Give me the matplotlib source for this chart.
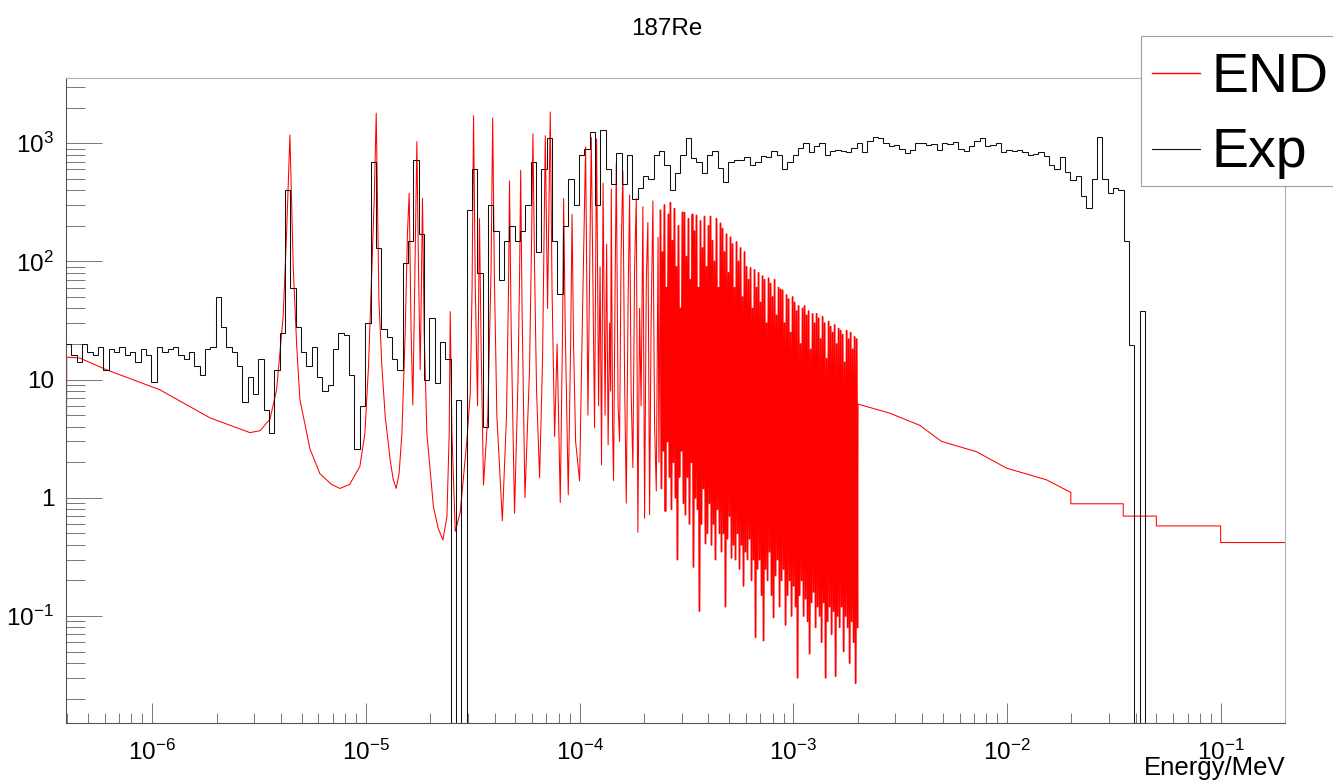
"""187Re: evaluated (END) vs experimental (Exp) spectrum, ROOT-style log-log plot."""
import numpy as np
import matplotlib
matplotlib.use("Agg")
import matplotlib.pyplot as plt
from matplotlib.lines import Line2D
from matplotlib.patches import Rectangle
from matplotlib.ticker import LogLocator, FuncFormatter, NullFormatter

plt.rcParams["font.family"] = ["Liberation Sans", "DejaVu Sans"]
plt.rcParams["mathtext.fontset"] = "custom"
plt.rcParams["mathtext.rm"] = "Liberation Sans"
plt.rcParams["mathtext.it"] = "Liberation Sans:italic"
plt.rcParams["mathtext.bf"] = "Liberation Sans:bold"

# ---- END (red), resolved resonances read point by point: energy [MeV], value
end_e = [
    3.96e-7, 3.98e-7, 4.59e-7, 6.12e-7, 1.086e-6, 1.862e-6, 2.5e-6, 2.866e-6,
    3.2e-6, 3.43e-6,
    3.555e-6, 3.82e-6, 4.10e-6, 4.255e-6, 4.41e-6, 4.57e-6, 4.74e-6, 4.91e-6,
    5.47e-6, 6.09e-6, 6.9e-6, 7.56e-6, 8.4e-6, 9.37e-6, 9.89e-6, 1.0285e-5,
    1.0668e-5, 1.0935e-5,
    1.1175e-5, 1.1333e-5, 1.1506e-5, 1.188e-5, 1.231e-5, 1.299e-5, 1.34e-5,
    1.3856e-5, 1.43e-5,
    1.474e-5, 1.527e-5, 1.565e-5, 1.594e-5, 1.628e-5, 1.658e-5, 1.688e-5,
    1.732e-5, 1.762e-5, 1.795e-5, 1.815e-5, 1.840e-5, 1.874e-5, 1.929e-5,
    2.07e-5, 2.18e-5, 2.293e-5, 2.394e-5, 2.454e-5, 2.481e-5, 2.527e-5, 2.619e-5,
    2.763e-5, 2.97e-5, 3.08e-5, 3.14e-5, 3.19e-5, 3.25e-5, 3.33e-5, 3.40e-5,
    3.46e-5, 3.55e-5, 3.72e-5, 3.85e-5, 3.92e-5, 3.99e-5, 4.10e-5, 4.35e-5,
    4.55e-5, 4.65e-5, 4.70e-5, 4.78e-5, 4.96e-5, 5.15e-5, 5.24e-5, 5.30e-5,
    5.38e-5, 5.55e-5, 5.83e-5, 5.96e-5, 6.05e-5, 6.16e-5, 6.29e-5, 6.50e-5,
    6.71e-5, 6.91e-5, 7.08e-5, 7.29e-5, 7.43e-5, 7.64e-5, 7.85e-5, 8.12e-5,
    8.33e-5, 8.42e-5, 8.56e-5, 8.85e-5, 9.08e-5, 9.22e-5, 9.37e-5, 9.58e-5,
    1.0e-4, 1.033e-4, 1.067e-4, 1.094e-4, 1.134e-4, 1.175e-4, 1.201e-4,
    1.227e-4, 1.247e-4, 1.267e-4, 1.288e-4, 1.316e-4, 1.338e-4, 1.360e-4,
    1.382e-4, 1.397e-4, 1.407e-4, 1.427e-4, 1.442e-4, 1.466e-4, 1.485e-4,
    1.514e-4, 1.539e-4, 1.564e-4, 1.594e-4, 1.624e-4, 1.654e-4, 1.687e-4,
    1.714e-4, 1.742e-4, 1.776e-4, 1.809e-4, 1.842e-4, 1.874e-4, 1.909e-4,
    1.940e-4, 1.978e-4, 2.015e-4, 2.052e-4, 2.087e-4, 2.126e-4, 2.161e-4,
    2.203e-4, 2.244e-4, 2.285e-4, 2.330e-4, 2.350e-4,
]
end_y = [
    1.0, 15.5, 15.2, 12.1, 8.2, 4.75, 3.9, 3.56,
    3.7, 4.3,
    4.6, 8.2, 34, 174, 1175, 90, 20, 6.8,
    2.6, 1.6, 1.3, 1.2, 1.3, 1.84, 3.5, 12.9,
    90, 330,
    1795, 330, 47, 12.9, 4.9, 2.1, 1.45,
    1.2, 1.6,
    3.5, 24.8, 174, 378, 24.8, 6.1, 47,
    1030, 90, 12.1, 47, 343, 24.8, 3.5,
    0.84, 0.55, 0.44, 0.69, 3.5, 37.6, 3.5, 0.52,
    0.75, 3.1, 7.8, 60, 1710, 60, 6.0, 230,
    20, 1.28, 5, 80, 1640, 80, 5, 0.64,
    5, 60, 480, 30, 0.74, 10, 80, 590,
    40, 1.0, 12, 150, 1200, 80, 8, 1.48,
    15, 1160, 40, 1840, 60, 3.3, 20, 0.91,
    30, 340, 30, 1.06, 20, 250, 20, 3,
    1.39, 40, 930, 5.0, 1120, 3.9, 1090,
    6, 90, 1.9, 460, 5, 140, 2.8,
    30, 8, 410, 4, 1.4, 60, 680,
    6, 3, 120, 580, 10, 0.9, 50,
    365, 8, 1.8, 90, 340, 0.51, 40,
    6, 290, 0.67, 70, 214, 0.72, 30,
    325, 4, 1.14, 160, 2.0,
]

# ---- END, dense resonance region 0.24 keV .. 2 keV: tops and dips, left to right
end_dense_range = (2.39e-4, 2.0e-3)
end_dense_tops = [
    270, 120, 300, 60, 250, 314, 150, 280, 90, 200, 40, 260,
    259, 110, 230, 70, 250, 180, 245, 60, 220, 130, 240, 90, 200,
    240, 150, 100, 230, 60, 210, 190, 120, 170, 80, 160, 140,
    60, 146, 100, 130, 50, 120, 90, 70, 88, 40, 85, 60,
    80, 45, 75, 70, 30, 72, 65, 50, 70, 35, 60, 58,
    57, 30, 52, 48, 25, 50, 45, 38, 42, 20, 40, 42,
    35, 38, 18, 36, 30, 36, 33, 22, 34, 30, 15, 31,
    28, 25, 29, 20, 27, 26, 24, 14, 26, 22, 25, 18, 23, 22,
]
end_dense_dips = [
    1.2, 2.5, 0.77, 3, 1.5, 0.8, 2, 1.0, 0.3, 1.5, 2.5, 0.9,
    0.72, 1.5, 0.6, 2, 0.26, 1.0, 0.8, 0.11, 0.6, 1.2, 0.41, 0.5, 0.9,
    0.4, 0.6, 0.3, 0.8, 0.5, 0.35, 0.5, 0.12, 0.45, 0.7, 0.31, 0.4,
    0.3, 0.5, 0.25, 0.4, 0.18, 0.35, 0.3, 0.45, 0.2, 0.3, 0.066, 0.25,
    0.3, 0.15, 0.062, 0.25, 0.2, 0.35, 0.15, 0.097, 0.22, 0.3, 0.12, 0.2,
    0.25, 0.084, 0.15, 0.2, 0.1, 0.18, 0.12, 0.03, 0.15, 0.2, 0.1, 0.14,
    0.09, 0.048, 0.13, 0.16, 0.08, 0.12, 0.1, 0.06, 0.13, 0.03, 0.09, 0.12,
    0.07, 0.11, 0.031, 0.1, 0.08, 0.12, 0.05, 0.1, 0.08, 0.04, 0.09, 0.06, 0.027, 0.08,
]

# ---- END above 2 keV (smooth part, then group steps)
end_tail_e = [2.01e-3, 2.83e-3, 3.91e-3, 4.94e-3, 7.21e-3, 9.96e-3, 1.53e-2,
              1.99e-2, 1.99e-2, 3.5e-2, 3.5e-2, 5.0e-2, 5.0e-2, 0.1, 0.1, 0.2]
end_tail_y = [6.2, 5.2, 4.1, 3.0, 2.45, 1.78, 1.42,
              1.11, 0.89, 0.89, 0.70, 0.70, 0.578, 0.578, 0.418, 0.418]

# ---- Exp (black) histogram, 40 log bins per decade from the left edge
exp_first_edge = 3.95e-7
exp_bins_per_decade = 40
exp_counts = [
    20, 16, 14, 20, 17, 16, 19, 12, 18, 17,
    19, 16, 17, 14, 18, 16, 9.5, 19, 17, 18,
    19, 16, 15, 17, 13, 11, 18, 19, 50, 28,
    19, 17, 13, 6.5, 10.5, 7.5, 15, 5.5, 3.5, 12,
    25, 400, 60, 28, 17, 13, 19, 10.6, 8, 9,
    18, 25, 24, 11, 2.6, 6, 30, 700, 130, 27,
    23, 15, 12, 97, 150, 720, 170, 10, 33, 9.3,
    21, 15, 0, 6.7, 0, 270, 600, 80, 4, 300,
    180, 70, 150, 200, 150, 180, 300, 700, 120, 600,
    1100, 150, 53, 200, 500, 300, 800, 900, 1250, 300,
    1300, 600, 450, 820, 450, 800, 340, 420, 530, 500,
    800, 860, 650, 400, 560, 800, 1100, 750, 700, 560,
    800, 860, 620, 470, 700, 720, 720, 760, 660, 700,
    780, 760, 860, 800, 600, 700, 800, 920, 1000, 850,
    950, 1000, 800, 860, 880, 860, 840, 920, 1000, 850,
    1050, 1140, 1100, 1000, 940, 970, 900, 820, 880, 1000,
    1000, 960, 980, 880, 1000, 990, 1020, 900, 860, 940,
    1050, 1100, 940, 960, 1000, 850, 870, 860, 880, 850,
    800, 810, 850, 780, 650, 610, 760, 570, 490, 530,
    355, 285, 500, 1140, 500, 380, 420, 400, 150, 19.6,
    0, 38, 0,
]

x_range = (3.95e-7, 0.2)
y_range = (0.0125, 3600)

W, H = 1333, 781


def fx(px):
    return px / W


def fy(py):
    return 1 - py / H


def dense_curve():
    n = len(end_dense_tops)
    dense_y = np.empty(2 * n)
    dense_y[0::2] = end_dense_tops
    dense_y[1::2] = end_dense_dips
    dense_e = np.geomspace(end_dense_range[0], end_dense_range[1], 2 * n)
    return dense_e, dense_y


def y_label(v, _):
    p = int(round(np.log10(v)))
    if p == 0:
        return "1"
    if p == 1:
        return "10"
    return r"$10^{%d}$" % p


def main():
    fig = plt.figure(figsize=(W / 100, H / 100), dpi=100)
    ax = fig.add_axes([fx(66), fy(722.7), (1285 - 66) / W, (722.7 - 77.5) / H])

    dense_e, dense_y = dense_curve()
    e = np.concatenate([end_e, dense_e, end_tail_e])
    y = np.concatenate([end_y, dense_y, end_tail_y])
    ax.plot(e, y, color="#ff0000", lw=0.75, zorder=2)
    # the dense resonance forest renders as a nearly solid band in the original
    ax.plot(dense_e, dense_y, color="#ff0000", lw=1.25, zorder=2)

    counts = np.asarray(exp_counts, dtype=float)
    edges = exp_first_edge * 10 ** (np.arange(len(counts) + 1) / exp_bins_per_decade)
    ax.stairs(np.clip(counts, 1e-6, None), edges, color="#111111", lw=0.75,
              baseline=None, zorder=3)

    ax.set_xscale("log")
    ax.set_yscale("log")
    ax.set_xlim(*x_range)
    ax.set_ylim(*y_range)

    ax.xaxis.set_major_locator(LogLocator(base=10, numticks=20))
    ax.xaxis.set_minor_locator(LogLocator(base=10, subs=np.arange(2, 10), numticks=20))
    ax.xaxis.set_minor_formatter(NullFormatter())
    ax.yaxis.set_major_locator(LogLocator(base=10, numticks=20))
    ax.yaxis.set_minor_locator(LogLocator(base=10, subs=np.arange(2, 10), numticks=20))
    ax.yaxis.set_major_formatter(FuncFormatter(y_label))
    ax.yaxis.set_minor_formatter(NullFormatter())

    ax.tick_params(axis="y", which="major", direction="in", length=26, width=0.7,
                   color="#777777", pad=8.5, labelsize=17.5)
    ax.tick_params(axis="y", which="minor", direction="in", length=13.5, width=0.7,
                   color="#777777")
    ax.tick_params(axis="x", which="major", direction="in", length=14.4, width=0.7,
                   color="#777777", pad=12, labelsize=17.5)
    ax.tick_params(axis="x", which="minor", direction="in", length=7, width=0.7,
                   color="#777777")
    ax.tick_params(top=False, right=False, which="both")

    for side in ("left", "bottom"):
        ax.spines[side].set_color("#555555")
        ax.spines[side].set_linewidth(0.8)
    for side in ("top", "right"):
        ax.spines[side].set_color("#b0b0b0")
        ax.spines[side].set_linewidth(0.8)

    fig.text(0.5, fy(29), "187Re", ha="center", va="center", fontsize=17.5)
    fig.text(fx(1286), fy(775), "Energy/MeV", ha="right", va="baseline", fontsize=18.5)

    # legend box, ROOT style, running off the right edge
    fig.add_artist(Rectangle((fx(1140.7), fy(186)), 0.2, (186 - 36) / H,
                             transform=fig.transFigure, facecolor="white",
                             edgecolor="#a0a0a0", lw=0.8, zorder=10))
    fig.add_artist(Line2D([fx(1151.7), fx(1200)], [fy(73.3)] * 2, color="#ff0000",
                          lw=1.0, transform=fig.transFigure, zorder=11))
    fig.add_artist(Line2D([fx(1151.7), fx(1200)], [fy(149)] * 2, color="#111111",
                          lw=0.8, transform=fig.transFigure, zorder=11))
    fig.text(fx(1211), fy(91.7), "END", fontsize=40, va="baseline", ha="left", zorder=12)
    fig.text(fx(1211), fy(167), "Exp", fontsize=40, va="baseline", ha="left", zorder=12)

    fig.savefig("out.png", dpi=100)
    plt.close(fig)


if __name__ == "__main__":
    main()
